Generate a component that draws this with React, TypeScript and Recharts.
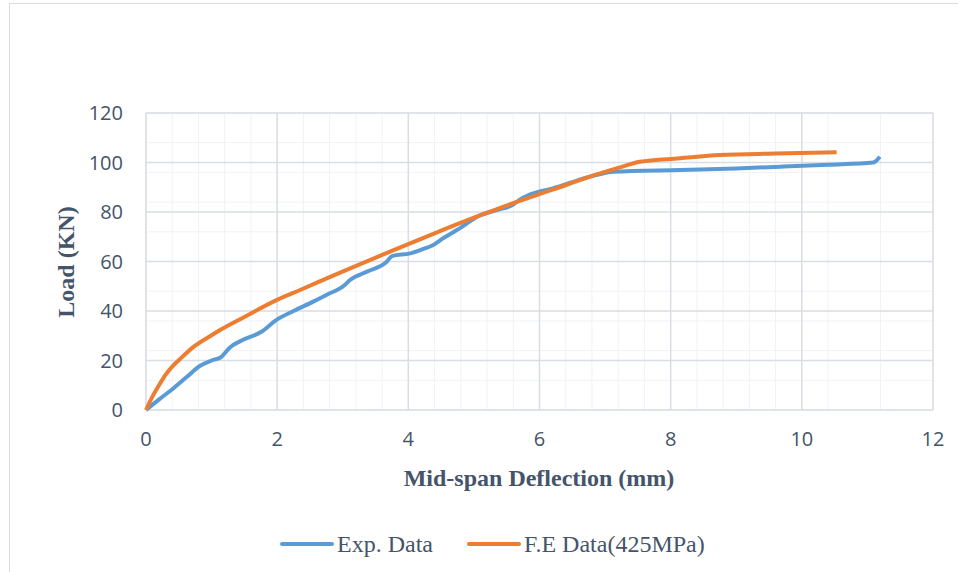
import React from 'react';
import { LineChart, Line, XAxis, YAxis, CartesianGrid } from 'recharts';

// Mid-span deflection (mm) vs load (KN)
const expDeflection = [0, 0.21, 0.42, 0.62, 0.82, 1.0, 1.15, 1.28, 1.45, 1.76, 1.99, 2.25, 2.55, 2.75, 3.03, 3.11, 3.37, 3.67, 3.75, 4.03, 4.2, 4.38, 4.53, 4.74, 5.09, 5.35, 5.6, 5.7, 5.85, 6.2, 6.77, 7.13, 8.14, 9.0, 9.67, 10.4, 11.09, 11.19];
const expLoad = [0, 4.5, 8.8, 13.3, 17.8, 20, 21.5, 25.3, 28, 31.6, 36.4, 40, 43.8, 46.5, 50.5, 52.5, 55.9, 59.9, 62.2, 63.3, 64.8, 66.7, 69.4, 72.7, 78.6, 80.8, 83, 85, 87, 89.5, 94.3, 96.3, 97, 97.6, 98.3, 99.1, 100, 102.3];

const feDeflection = [0, 0.1, 0.21, 0.3, 0.4, 0.52, 0.72, 1.0, 1.13, 1.5, 1.99, 2.35, 2.96, 3.72, 4.4, 5.09, 5.6, 6.2, 6.77, 7.2, 7.53, 8.14, 8.75, 9.6, 10.53];
const feLoad = [0, 5.5, 10.5, 14.3, 17.5, 20.6, 25.4, 30.2, 32.3, 37.6, 44.4, 48.5, 55.5, 64, 71.4, 78.6, 83.6, 89, 94.3, 97.8, 100.3, 101.7, 103, 103.6, 104.1];

const xTicks = [0, 2, 4, 6, 8, 10, 12];
const yTicks = [0, 20, 40, 60, 80, 100, 120];

const seriesNames = ['Exp. Data', 'F.E Data(425MPa)'];
const seriesColors = ['#5b9bd5', '#ed7d31'];

const expData = expDeflection.map((d, i) => ({ x: d, y: expLoad[i] }));
const feData = feDeflection.map((d, i) => ({ x: d, y: feLoad[i] }));

const minorX: number[] = [];
for (let i = 0; i <= 30; i++) minorX.push(+(i * 0.4).toFixed(1));
const minorY: number[] = [];
for (let i = 0; i <= 30; i++) minorY.push(i * 4);

const tickStyle = { fill: '#44546a', fontSize: 20, fontFamily: '"Open Sans", sans-serif' };
const serif = '"Liberation Serif", "Times New Roman", serif';
const legendLeft = [280, 467];

export default function App() {
  return (
    <div style={{ position: 'fixed', left: 0, top: 0, width: 958, height: 572, overflow: 'hidden', background: '#fff' }}>
      <div style={{ position: 'absolute', left: 9, top: 3, width: 1000, height: 600, border: '1px solid #d9dce1', boxSizing: 'border-box' }} />
      <div style={{ position: 'absolute', left: 0, top: 0 }}>
        <LineChart width={958} height={572} margin={{ top: 113, right: 25, bottom: 122, left: 86 }}>
          <CartesianGrid stroke="#f0f2f5" strokeWidth={1} verticalValues={minorX} horizontalValues={minorY} />
          <CartesianGrid stroke="#d9dde4" strokeWidth={1.5} verticalValues={xTicks} horizontalValues={yTicks} />
          <XAxis
            type="number"
            dataKey="x"
            domain={[0, 12]}
            ticks={xTicks}
            axisLine={false}
            tickLine={false}
            tickMargin={16}
            height={40}
            tick={tickStyle}
            allowDuplicatedCategory={false}
          />
          <YAxis
            type="number"
            dataKey="y"
            domain={[0, 120]}
            ticks={yTicks}
            axisLine={false}
            tickLine={false}
            tickMargin={17}
            width={60}
            tick={tickStyle}
          />
          <Line data={expData} dataKey="y" name={seriesNames[0]} type="monotone" stroke={seriesColors[0]} strokeWidth={4} dot={false} isAnimationActive={false} />
          <Line data={feData} dataKey="y" name={seriesNames[1]} type="monotone" stroke={seriesColors[1]} strokeWidth={4} dot={false} isAnimationActive={false} />
        </LineChart>
      </div>
      <div style={{ position: 'absolute', left: 66, top: 262, transform: 'translate(-50%, -50%) rotate(-90deg)', whiteSpace: 'nowrap', fontFamily: serif, fontWeight: 'bold', fontSize: 24, color: '#44546a' }}>
        Load (KN)
      </div>
      <div style={{ position: 'absolute', left: 539, top: 478, transform: 'translate(-50%, -50%)', whiteSpace: 'nowrap', fontFamily: serif, fontWeight: 'bold', fontSize: 24, color: '#44546a' }}>
        Mid-span Deflection (mm)
      </div>
      {seriesNames.map((n, i) => (
        <div key={n} style={{ position: 'absolute', left: legendLeft[i], top: 530, height: 28, display: 'flex', alignItems: 'center', fontFamily: serif, fontSize: 24, color: '#44546a', whiteSpace: 'nowrap' }}>
          <span style={{ display: 'inline-block', width: 54, height: 4, borderRadius: 2, background: seriesColors[i], marginRight: 3 }} />
          <span>{n}</span>
        </div>
      ))}
    </div>
  );
}
